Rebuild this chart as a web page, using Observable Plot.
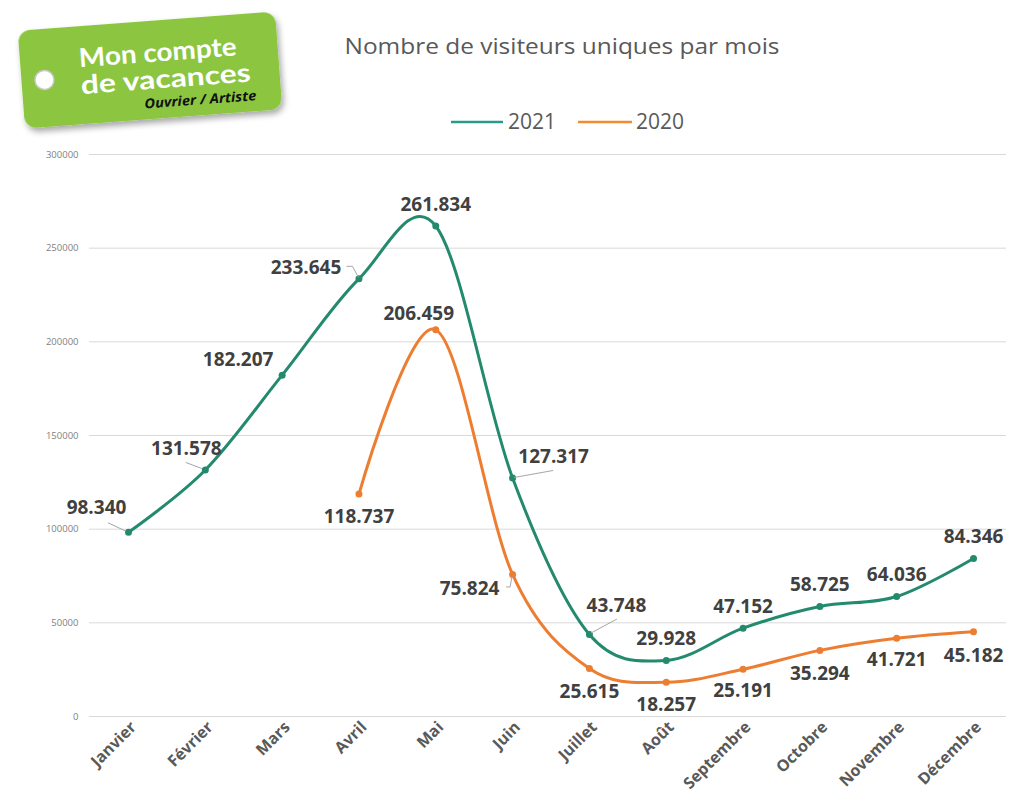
<!DOCTYPE html>
<html>
<head>
<meta charset="utf-8">
<script src="https://cdn.jsdelivr.net/npm/d3@7"></script>
<script src="https://cdn.jsdelivr.net/npm/@observablehq/plot@0.6"></script>
<style>
  html, body { margin: 0; padding: 0; background: #ffffff; overflow: hidden; }
  #wrap { position: relative; width: 1010px; height: 802px; overflow: hidden; font-family: 'Open Sans', sans-serif; }
  #header { position: absolute; left: 0; top: 0; }
  #chart { position: absolute; left: 0; top: 140px; width: 1010px; }
  #chart svg { max-width: none !important; }
</style>
</head>
<body>
<div id="wrap">
  <svg id="header" width="1010" height="140" xmlns="http://www.w3.org/2000/svg">
    <defs>
      <filter id="shadow" x="-10%" y="-20%" width="130%" height="150%">
        <feDropShadow dx="2" dy="4" stdDeviation="3" flood-color="#000" flood-opacity="0.35"/>
      </filter>
    </defs>
    <g transform="rotate(-4.3 150 70)">
      <rect x="21" y="21" width="258" height="98" rx="12" ry="12" fill="#8cc63f" filter="url(#shadow)"/>
      <circle cx="44" cy="72" r="9.5" fill="#ffffff" stroke="#c9c9c9" stroke-width="1.5"/>
      <text x="80" y="62" fill="#ffffff" font-family="Lato, 'Open Sans', sans-serif" font-weight="bold" font-size="26" textLength="158" lengthAdjust="spacingAndGlyphs">Mon compte</text>
      <text x="80" y="89" fill="#ffffff" font-family="Lato, 'Open Sans', sans-serif" font-weight="bold" font-size="26" textLength="170" lengthAdjust="spacingAndGlyphs">de vacances</text>
      <text x="142" y="108" fill="#111111" font-family="'Open Sans', sans-serif" font-weight="bold" font-style="italic" font-size="13.5" textLength="112" lengthAdjust="spacingAndGlyphs">Ouvrier / Artiste</text>
    </g>
    <text x="562" y="54" text-anchor="middle" fill="#595959" font-family="'Open Sans', sans-serif" font-size="22.5" textLength="435" lengthAdjust="spacingAndGlyphs">Nombre de visiteurs uniques par mois</text>
    <line x1="451" y1="122" x2="503" y2="122" stroke="#2a9a8c" stroke-width="2.5"/>
    <text x="508" y="129" fill="#595959" font-family="'Open Sans', sans-serif" font-size="21">2021</text>
    <line x1="578" y1="122" x2="632" y2="122" stroke="#f28c2c" stroke-width="2.5"/>
    <text x="636" y="129" fill="#595959" font-family="'Open Sans', sans-serif" font-size="21">2020</text>
  </svg>
  <div id="chart"></div>
</div>
<script>
// ---- Data ----
const months = ["Janvier", "Février", "Mars", "Avril", "Mai", "Juin", "Juillet", "Août", "Septembre", "Octobre", "Novembre", "Décembre"];
const visitors2021 = [98340, 131578, 182207, 233645, 261834, 127317, 43748, 29928, 47152, 58725, 64036, 84346];
const visitors2020 = [null, null, null, 118737, 206459, 75824, 25615, 18257, 25191, 35294, 41721, 45182];
const yTicks = [0, 50000, 100000, 150000, 200000, 250000, 300000];

// ---- Label placement (pixel offsets from each point) ----
const labelDx2021 = [-32, -19, -44, -53, 0, 41, 27, 0, 0, 0, 0, 0];
const labelDy2021 = [-24, -21, -15, -11, -21, -21, -29, -22, -21, -22, -22, -22];
const labelDx2020 = [0, 0, 0, 0, -17, -43, 0, 0, 0, 0, 0, 0];
const labelDy2020 = [0, 0, 0, 23, -16, 14, 23, 23, 22, 24, 22, 24];

const color2021 = "#238a6e";
const color2020 = "#ed7d31";

const fmt = d3.formatLocale({decimal: ",", thousands: ".", grouping: [3]}).format(",d");

const rows2021 = months.map((m, i) => ({month: m, value: visitors2021[i], i}));
const rows2020 = months.map((m, i) => ({month: m, value: visitors2020[i], i})).filter(d => d.value != null);

const labelFont = {fontSize: 19, fontWeight: "bold", fill: "#404040"};
const labelMarks = [
  ...rows2021.map(d => Plot.text([d], {x: "month", y: "value", text: r => fmt(r.value), dx: labelDx2021[d.i], dy: labelDy2021[d.i], ...labelFont})),
  ...rows2020.map(d => Plot.text([d], {x: "month", y: "value", text: r => fmt(r.value), dx: labelDx2020[d.i], dy: labelDy2020[d.i], ...labelFont}))
];

const plot = Plot.plot({
  width: 1010,
  height: 662,
  marginLeft: 89,
  marginRight: 4,
  marginTop: 14,
  marginBottom: 86,
  style: {fontFamily: "'Open Sans', sans-serif", background: "transparent", maxWidth: "none"},
  x: {type: "point", domain: months, range: [128, 973], padding: 0, round: false},
  y: {domain: [0, 300000]},
  marks: [
    Plot.ruleY(yTicks, {stroke: "#d9d9d9", strokeWidth: 1}),
    Plot.axisY({ticks: yTicks, tickSize: 0, tickPadding: 11, tickFormat: d => String(d), fontSize: 9.5, fill: "#7f7f7f", label: null}),
    Plot.axisX({tickRotate: -45, tickSize: 0, tickPadding: 8, dx: 5, fontSize: 16, fontWeight: "bold", fill: "#595959", label: null}),
    Plot.line(rows2021, {x: "month", y: "value", stroke: color2021, strokeWidth: 3, curve: "cardinal"}),
    Plot.line(rows2020, {x: "month", y: "value", stroke: color2020, strokeWidth: 3, curve: "cardinal"}),
    Plot.dot(rows2021, {x: "month", y: "value", r: 3.5, fill: color2021}),
    Plot.dot(rows2020, {x: "month", y: "value", r: 3.5, fill: color2020}),
    ...labelMarks
  ]
});
document.getElementById("chart").appendChild(plot);

// ---- Leader lines (through the plot's scales) ----
const xs = plot.scale("x"), ys = plot.scale("y");
const leaders = [
  {month: "Janvier", value: 98340, pts: [[-3, -1], [-20, -9]]},
  {month: "Février", value: 131578, pts: [[-3, -1], [-19, -7]]},
  {month: "Avril", value: 233645, pts: [[0, -1], [-6, -12], [-12, -12]]},
  {month: "Juin", value: 127317, pts: [[2, 0], [41, -7]]},
  {month: "Juillet", value: 43748, pts: [[2, -1], [28, -15]]},
  {month: "Juin", value: 75824, pts: [[0, 2], [-2, 13], [-6, 13]]}
];
const svg = d3.select(plot);
const lg = svg.append("g").attr("fill", "none").attr("stroke", "#a6a6a6").attr("stroke-width", 1);
for (const l of leaders) {
  const px = xs.apply(l.month), py = ys.apply(l.value);
  lg.append("polyline").attr("points", l.pts.map(([dx, dy]) => `${px + dx},${py + dy}`).join(" "));
}
</script>
</body>
</html>
